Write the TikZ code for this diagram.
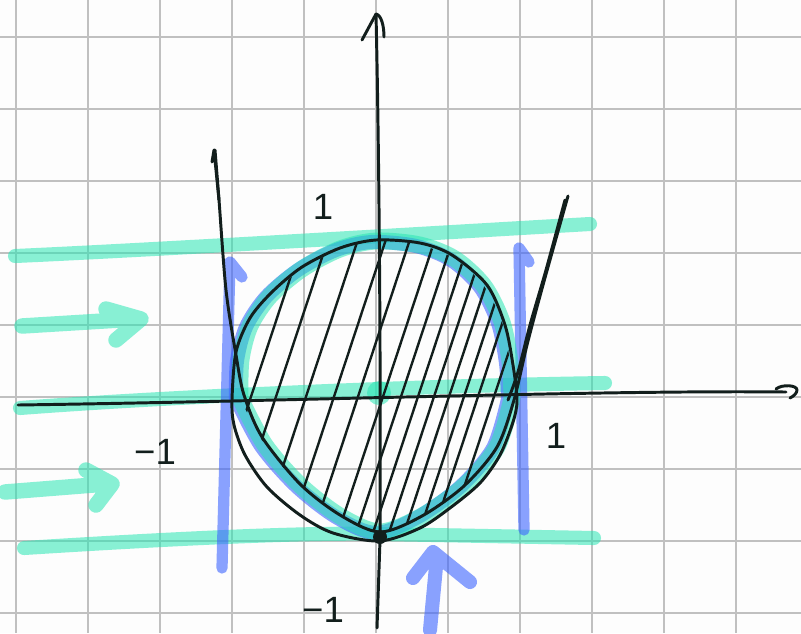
\documentclass[tikz,border=0pt]{standalone}
\usepackage{fontspec}
\setsansfont{Liberation Sans}
\usetikzlibrary{positioning}
\definecolor{markteal}{RGB}{40, 230, 180}
\definecolor{markblue}{RGB}{60, 100, 255}
\definecolor{gridgray}{RGB}{192, 192, 192}
\definecolor{inkblack}{RGB}{18, 30, 28}
\definecolor{paper}{RGB}{253, 253, 253}
\newcommand{\lensoutline}{plot[smooth] coordinates {(240,398) (241,360) (250,326) (270,296) (302,269) (340,249) (376,241) (420,245) (455,259) (484,286) (502,322) (510,362) (512,398)} -- plot[smooth] coordinates {(512,398) (497,447) (464,486) (422,516) (380,532) (340,516) (300,485) (265,445) (240,398)} -- cycle}

\begin{document}
\begin{tikzpicture}[
    x=0.025cm, y=-0.025cm,
    gridline/.style={draw=gridgray, line width=1.4pt},
    pen/.style={draw=inkblack, line width=2.1pt, line cap=round, line join=round},
    hatchline/.style={draw=inkblack, line width=1.7pt, line cap=round},
    tealmark/.style={draw=markteal, opacity=0.55, line width=10pt, line cap=round, line join=round},
    bluemark/.style={draw=markblue, opacity=0.6, line width=8pt, line cap=round, line join=round},
    digit/.style={text=inkblack, font=\sffamily\fontsize{26}{26}\selectfont, inner sep=0pt}
]
    \fill[paper] (0,0) rectangle (801,633);
    \useasboundingbox (0,0) rectangle (801,633);

    \foreach \gx in {16,88,...,736}
        \draw[gridline] (\gx,0) -- (\gx,633);
    \foreach \gy in {37,109,...,613}
        \draw[gridline] (0,\gy) -- (801,\gy);

    \draw[tealmark] (15,256) .. controls (150,250) and (400,235) .. (590,224);
    \draw[tealmark] (20,408) .. controls (150,398) and (400,386) .. (605,383);
    \fill[markteal, opacity=0.55] (379,393) circle (12);
    \draw[tealmark] (24,548) .. controls (150,540) and (300,532) .. (380,534) -- (594,538);
    \draw[tealmark, line width=11pt] (22,326) -- (136,319) (106,309) -- (141,319) -- (116,340);
    \draw[tealmark, line width=11pt] (5,492) -- (106,484) (86,470) -- (112,484) -- (96,505);

    \draw[bluemark] (222,568) -- (230,262) -- (242,277);
    \draw[bluemark] (524,530) -- (519,248) -- (529,262);
    \draw[bluemark, line width=10pt] (430,630) -- (437,556) (413,578) -- (433,552) -- (470,582);
    \draw[bluemark, line width=10pt, shift={(-4,1)}] \lensoutline;
    \draw[tealmark, line width=12pt] \lensoutline;

    \begin{scope}
        \clip \lensoutline;
        \foreach \hx in {250,275,305,333,357,382,400,417,433,448,463,477,493}
            \draw[hatchline] (\hx+66,200) -- (\hx-53,560);
    \end{scope}

    \draw[pen] plot[smooth cycle] coordinates {(232,400) (236,352) (250,318) (272,292) (302,267) (340,248) (376,240) (420,243) (452,255) (487,285) (505,325) (513,365) (517,400) (513,422) (500,455) (480,483) (450,508) (420,528) (380,541) (333,533) (300,515) (267,487) (245,455) (234,425)};
    \draw[pen] plot[smooth] coordinates {(215,150) (219,200) (226,290) (236,355) (244,395) (262,437) (300,484) (340,515) (380,532) (422,516) (464,486) (497,447) (514,400) (527,345) (543,285) (568,196)};
    \draw[pen] plot[smooth] coordinates {(565,200) (546,270) (530,325) (518,372) (508,400)};
    \draw[pen] (212,162) -- (214,150) -- (219,200);

    \coordinate (xtail) at (18,405);
    \coordinate (xtip) at (786,392);
    \coordinate (ytail) at (377,628);
    \coordinate (ytip) at (376,14);
    \draw[pen] (xtail) .. controls (300,401) and (600,390) .. (xtip);
    \draw[pen] (776,389) .. controls (782,384) and (797,385) .. (797,390) .. controls (797,393) and (794,396) .. (790,398);
    \draw[pen] (ytail) -- (380,540) .. controls (381,300) and (378,100) .. (ytip);
    \draw[pen] (362,40) -- (ytip) .. controls (381,15) and (384,25) .. (384,37);

    \node[circle, fill=inkblack, inner sep=0pt, minimum size=0.35cm] (bottomdot) at (380,537) {};

    \node[digit] (topone) at (323,207) {1};
    \node[digit] (leftone) at (155,452) {−1};
    \node[digit] (rightone) at (556,436) {1};
    \node[digit] (bottomone) at (323,610) {−1};
\end{tikzpicture}
\end{document}
